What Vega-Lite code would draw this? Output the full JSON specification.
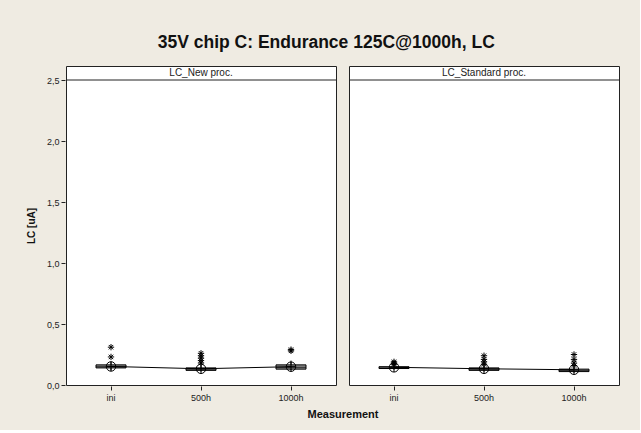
{
  "$schema": "https://vega.github.io/schema/vega-lite/v6.json",
  "background": "#EFEBE2",
  "padding": {"left": 26, "top": 34, "right": 20, "bottom": 10},
  "title": {"text": "35V chip C: Endurance 125C@1000h, LC", "fontSize": 17.5, "font": "Liberation Sans", "fontWeight": "bold", "color": "#111", "anchor": "middle", "dx": 3, "offset": 14},
  "data": {"values": [
    {"proc": "LC_New proc.", "meas": "ini", "kind": "box", "q1": 0.14, "med": 0.15, "q3": 0.165, "mean": 0.152, "lo": 0.12, "hi": 0.19},
    {"proc": "LC_New proc.", "meas": "500h", "kind": "box", "q1": 0.12, "med": 0.13, "q3": 0.14, "mean": 0.133, "lo": 0.11, "hi": 0.16},
    {"proc": "LC_New proc.", "meas": "1000h", "kind": "box", "q1": 0.13, "med": 0.145, "q3": 0.165, "mean": 0.15, "lo": 0.12, "hi": 0.2},
    {"proc": "LC_Standard proc.", "meas": "ini", "kind": "box", "q1": 0.135, "med": 0.14, "q3": 0.15, "mean": 0.145, "lo": 0.125, "hi": 0.165},
    {"proc": "LC_Standard proc.", "meas": "500h", "kind": "box", "q1": 0.12, "med": 0.13, "q3": 0.14, "mean": 0.133, "lo": 0.11, "hi": 0.16},
    {"proc": "LC_Standard proc.", "meas": "1000h", "kind": "box", "q1": 0.11, "med": 0.12, "q3": 0.13, "mean": 0.125, "lo": 0.1, "hi": 0.15},
    {"proc": "LC_New proc.", "meas": "ini", "kind": "out", "v": 0.31},
    {"proc": "LC_New proc.", "meas": "ini", "kind": "out", "v": 0.23},
    {"proc": "LC_New proc.", "meas": "500h", "kind": "out", "v": 0.26},
    {"proc": "LC_New proc.", "meas": "500h", "kind": "out", "v": 0.24},
    {"proc": "LC_New proc.", "meas": "500h", "kind": "out", "v": 0.22},
    {"proc": "LC_New proc.", "meas": "500h", "kind": "out", "v": 0.2},
    {"proc": "LC_New proc.", "meas": "500h", "kind": "out", "v": 0.18},
    {"proc": "LC_New proc.", "meas": "1000h", "kind": "out", "v": 0.29},
    {"proc": "LC_New proc.", "meas": "1000h", "kind": "out", "v": 0.28},
    {"proc": "LC_Standard proc.", "meas": "ini", "kind": "out", "v": 0.19},
    {"proc": "LC_Standard proc.", "meas": "ini", "kind": "out", "v": 0.18},
    {"proc": "LC_Standard proc.", "meas": "ini", "kind": "out", "v": 0.17},
    {"proc": "LC_Standard proc.", "meas": "500h", "kind": "out", "v": 0.24},
    {"proc": "LC_Standard proc.", "meas": "500h", "kind": "out", "v": 0.21},
    {"proc": "LC_Standard proc.", "meas": "500h", "kind": "out", "v": 0.19},
    {"proc": "LC_Standard proc.", "meas": "500h", "kind": "out", "v": 0.17},
    {"proc": "LC_Standard proc.", "meas": "1000h", "kind": "out", "v": 0.25},
    {"proc": "LC_Standard proc.", "meas": "1000h", "kind": "out", "v": 0.21},
    {"proc": "LC_Standard proc.", "meas": "1000h", "kind": "out", "v": 0.18},
    {"proc": "LC_Standard proc.", "meas": "1000h", "kind": "out", "v": 0.16}
  ]},
  "facet": {
    "column": {
      "field": "proc", "type": "nominal", "sort": ["LC_New proc.", "LC_Standard proc."],
      "title": "Measurement",
      "header": {
        "titleOrient": "bottom", "titleFontSize": 11, "titleFontWeight": "bold", "titleFont": "Liberation Sans", "titleColor": "#111", "titlePadding": -3,
        "labels": false
      }
    }
  },
  "spacing": 11,
  "spec": {
    "width": 270,
    "height": 319,
    "encoding": {
      "x": {"field": "meas", "type": "nominal", "sort": ["ini", "500h", "1000h"], "title": null,
        "scale": {"paddingInner": 0, "paddingOuter": 0},
        "axis": {"labelAngle": 0, "labelFontSize": 9, "labelFont": "Liberation Sans", "labelColor": "#222", "tickColor": "#222", "tickSize": 4, "domain": false, "labelPadding": 3}}
    },
    "layer": [
      {
        "transform": [{"filter": "datum.kind == 'box' && datum.meas == 'ini'"}],
        "mark": {"type": "rule", "color": "#222", "strokeWidth": 1},
        "encoding": {"x": null, "y": {"datum": 2.5, "type": "quantitative"}}
      },
      {
        "transform": [{"filter": "datum.kind == 'box' && datum.meas == '500h'"}],
        "mark": {"type": "text", "font": "Liberation Sans", "fontSize": 10, "color": "#222", "baseline": "middle"},
        "encoding": {"y": {"datum": 2.558, "type": "quantitative"}, "text": {"field": "proc"}}
      },
      {
        "transform": [{"filter": "datum.kind == 'box'"}],
        "mark": {"type": "rule", "color": "#000", "strokeWidth": 1},
        "encoding": {"y": {"field": "lo", "type": "quantitative"}, "y2": {"field": "hi"}}
      },
      {
        "transform": [{"filter": "datum.kind == 'box'"}],
        "mark": {"type": "bar", "fill": "#8C8C8C", "stroke": "#000", "strokeWidth": 1, "width": 30},
        "encoding": {
          "y": {"field": "q1", "type": "quantitative", "scale": {"domain": [0, 2.6148], "nice": false},
            "title": "LC [uA]",
            "axis": {"values": [0, 0.25, 0.5, 0.75, 1, 1.25, 1.5, 1.75, 2, 2.25, 2.5],
              "labelExpr": "(datum.value * 2) % 1 == 0 ? replace(format(datum.value, '.1f'), '.', ',') : ''",
              "grid": false, "domain": false, "tickSize": 4, "tickColor": "#222", "labelFontSize": 9, "labelFont": "Liberation Sans", "labelColor": "#222",
              "titleFontSize": 10, "titleFontWeight": "bold", "titleFont": "Liberation Sans", "titleColor": "#111", "titlePadding": 10, "labelPadding": 2}},
          "y2": {"field": "q3"}
        }
      },
      {
        "transform": [{"filter": "datum.kind == 'box'"}],
        "mark": {"type": "tick", "color": "#000", "thickness": 1, "size": 30},
        "encoding": {"y": {"field": "med", "type": "quantitative"}}
      },
      {
        "transform": [{"filter": "datum.kind == 'box'"}],
        "mark": {"type": "line", "color": "#000", "strokeWidth": 1},
        "encoding": {"y": {"field": "mean", "type": "quantitative"}}
      },
      {
        "transform": [{"filter": "datum.kind == 'box'"}],
        "mark": {"type": "point", "shape": "circle", "filled": false, "stroke": "#000", "strokeWidth": 1, "size": 90, "opacity": 1},
        "encoding": {"y": {"field": "mean", "type": "quantitative"}}
      },
      {
        "transform": [{"filter": "datum.kind == 'box'"}],
        "mark": {"type": "point", "shape": "M-1,0L1,0M0,-1L0,1", "filled": false, "stroke": "#000", "strokeWidth": 1, "size": 90, "opacity": 1},
        "encoding": {"y": {"field": "mean", "type": "quantitative"}}
      },
      {
        "transform": [{"filter": "datum.kind == 'out'"}],
        "mark": {"type": "point", "shape": "M-1,0L1,0M0,-1L0,1M-0.7,-0.7L0.7,0.7M-0.7,0.7L0.7,-0.7", "filled": false, "stroke": "#000", "strokeWidth": 1, "size": 40, "opacity": 1},
        "encoding": {"y": {"field": "v", "type": "quantitative"}}
      }
    ]
  },
  "resolve": {"scale": {"y": "shared", "x": "shared"}},
  "config": {
    "view": {"stroke": "#222", "strokeWidth": 1, "fill": "white"},
    "axis": {"grid": false}
  }
}
